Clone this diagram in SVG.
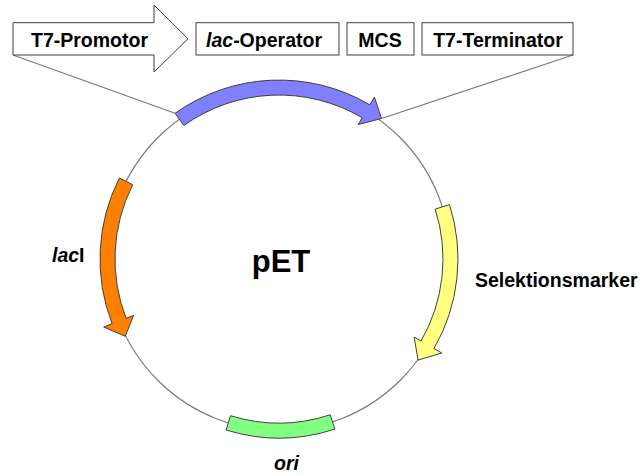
<svg xmlns="http://www.w3.org/2000/svg" width="642" height="475" viewBox="0 0 642 475">
<style>
.box{fill:#fff;stroke:#404040;stroke-width:1}
.lbl{font-family:"Liberation Sans",Arial,sans-serif;font-weight:bold;font-size:19.5px;fill:#000}
.big{font-size:31px}
.seg{stroke:#404040;stroke-width:1;stroke-linejoin:miter}
.conn{fill:none;stroke:#7a7a7a;stroke-width:1.2}
</style>
<rect width="642" height="475" fill="#fff"/>
<g id="connectors">
<circle class="conn" cx="279" cy="259" r="171.5" stroke-width="1.5"/>
<line class="conn" x1="13" y1="55" x2="175" y2="113.3"/>
<line class="conn" x1="573" y1="55" x2="381.5" y2="118.5"/>
</g>
<g id="t7-promotor">
<polygon class="box" points="13,22.7 154,22.7 154,5 188,38.8 154,72 154,55 13,55"/>
<text class="lbl" x="89.5" y="46.5" text-anchor="middle">T7-Promotor</text>
</g>
<g id="lac-operator">
<rect class="box" x="196" y="22.7" width="143" height="32.3"/>
<text class="lbl" x="264" y="46.5" text-anchor="middle"><tspan font-style="italic">lac</tspan>-Operator</text>
</g>
<g id="mcs">
<rect class="box" x="347" y="22.7" width="67" height="32.3"/>
<text class="lbl" x="380" y="46.5" text-anchor="middle">MCS</text>
</g>
<g id="t7-terminator">
<rect class="box" x="422" y="22.7" width="151" height="32.3"/>
<text class="lbl" x="498" y="46.5" text-anchor="middle">T7-Terminator</text>
</g>
<g id="t7-region">
<path class="seg" fill="#8080ff" d="M175.1,113.3 A179,179 0 0 1 369.8,104.8 L374.4,97 L381.5,118.5 L358.2,124.6 L362.2,117.7 A164,164 0 0 0 183.8,125.5 Z"/>
</g>
<g id="lacI">
<path class="seg" fill="#ff8000" d="M119.4,178 A179,179 0 0 0 112.1,323.7 L103.7,327 L125.3,336.3 L133.6,315.4 L126.1,318.3 A164,164 0 0 1 132.7,184.8 Z"/>
<text class="lbl" x="52" y="262"><tspan font-style="italic">lac</tspan>I</text>
</g>
<g id="selektionsmarker">
<path class="seg" fill="#ffff80" d="M449.5,204.6 A179,179 0 0 1 434,348.5 L441.8,353 L418.1,360.1 L414.1,337 L421,341 A164,164 0 0 0 435.2,209.1 Z"/>
<text class="lbl" x="475" y="287">Selektionsmarker</text>
</g>
<g id="ori">
<path class="seg" fill="#80ff80" d="M330.2,414.8 A164,164 0 0 1 230.5,415.7 L226.1,430 A179,179 0 0 0 334.9,429.1 Z"/>
<text class="lbl" x="274" y="470" font-style="italic">ori</text>
</g>
<g id="pET">
<text class="lbl big" x="281" y="272" text-anchor="middle">pET</text>
</g>
</svg>
